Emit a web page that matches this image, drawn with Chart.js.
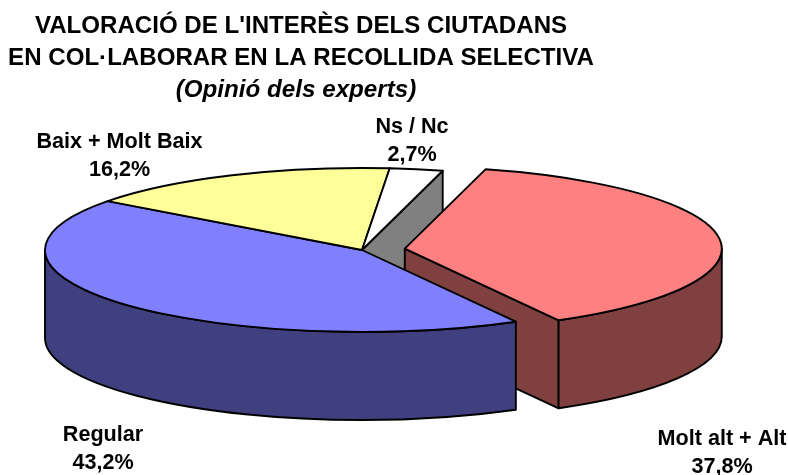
<!DOCTYPE html>
<html><head><meta charset="utf-8">
<style>html,body{margin:0;padding:0;background:#fff}canvas{display:block}</style>
<script src="https://cdn.jsdelivr.net/npm/chart.js@4/dist/chart.umd.min.js"></script>
</head><body><canvas id="c" width="788" height="475"></canvas>
<script>
const categories = ['Molt alt + Alt', 'Regular', 'Baix + Molt Baix', 'Ns / Nc'];
const values = [37.8, 43.2, 16.2, 2.7];
const topColors = ['#FF8080', '#8080FF', '#FFFF99', '#FFFFFF'];
const sideColors = ['#804040', '#404080', '#808040', '#808080'];
const explode = [0.136, 0, 0, 0];
const titleLines = ["VALORACIÓ DE L'INTERÈS DELS CIUTADANS", 'EN COL·LABORAR EN LA RECOLLIDA SELECTIVA'];
const subtitleText = '(Opinió dels experts)';
const labelCenters = [[722, 439], [103, 435], [119.5, 142], [412, 127]];

const view = {cx: 362, cy: 250, rx: 317, ry: 82, depth: 88};
const FONT = 'Liberation Sans, Arial, sans-serif';

const pie3d = {
  id: 'pie3d',
  beforeDatasetDraw() { return false; },
  afterDatasetsDraw(chart) {
    const ctx = chart.ctx;
    const arcs = chart.getDatasetMeta(0).data;
    const n = arcs.length;
    const toScreen = (arc, i, yShift) => {
      const R = arc.outerRadius;
      const sx = view.rx / R, sy = view.ry / R;
      const mid = (arc.startAngle + arc.endAngle) / 2;
      const e = explode[i];
      return {
        sx, sy,
        ox: view.cx + Math.cos(mid) * e * view.rx - arc.x * sx,
        oy: view.cy + Math.sin(mid) * e * view.ry - arc.y * sy + yShift
      };
    };
    const pt = (arc, i, a, r, yShift) => {
      const t = toScreen(arc, i, yShift);
      return [t.ox + (arc.x + Math.cos(a) * r) * t.sx, t.oy + (arc.y + Math.sin(a) * r) * t.sy];
    };
    const arcPath = (arc, i, a0, a1, ccw, yShift) => {
      const t = toScreen(arc, i, yShift);
      ctx.save();
      ctx.transform(t.sx, 0, 0, t.sy, t.ox, t.oy);
      ctx.arc(arc.x, arc.y, arc.outerRadius, a0, a1, ccw);
      ctx.restore();
    };
    const paint = (fill) => {
      ctx.fillStyle = fill;
      ctx.fill();
      ctx.strokeStyle = '#000';
      ctx.lineWidth = 1.9;
      ctx.lineJoin = 'round';
      ctx.stroke();
    };
    const radialWall = (arc, i, a) => {
      const p = pt(arc, i, a, 0, 0), q = pt(arc, i, a, arc.outerRadius, 0);
      ctx.beginPath();
      ctx.moveTo(p[0], p[1]);
      ctx.lineTo(q[0], q[1]);
      ctx.lineTo(q[0], q[1] + view.depth);
      ctx.lineTo(p[0], p[1] + view.depth);
      ctx.closePath();
      paint(sideColors[i]);
    };
    const drawSide = (i) => {
      const arc = arcs[i];
      const f0 = Math.max(arc.startAngle, 0), f1 = Math.min(arc.endAngle, Math.PI);
      if (f1 > f0) {
        ctx.beginPath();
        arcPath(arc, i, f0, f1, false, 0);
        arcPath(arc, i, f1, f0, true, view.depth);
        ctx.closePath();
        paint(sideColors[i]);
      }
    };
    const drawCuts = (i) => {
      const arc = arcs[i];
      const next = (i + 1) % n, prev = (i + n - 1) % n;
      if (explode[next] !== explode[i] && Math.cos(arc.endAngle) > 0) radialWall(arc, i, arc.endAngle);
      if (explode[prev] !== explode[i] && Math.cos(arc.startAngle) < 0) radialWall(arc, i, arc.startAngle);
    };
    const drawTop = (i) => {
      const arc = arcs[i];
      const c = pt(arc, i, 0, 0, 0);
      ctx.beginPath();
      ctx.moveTo(c[0], c[1]);
      arcPath(arc, i, arc.startAngle, arc.endAngle, false, 0);
      ctx.closePath();
      paint(topColors[i]);
    };
    const idx = values.map((_, i) => i);
    const flat = idx.filter(i => !explode[i]);
    const out = idx.filter(i => explode[i]);
    ctx.save();
    flat.forEach(drawCuts);
    out.forEach(drawCuts);
    out.forEach(drawSide);
    out.forEach(drawTop);
    flat.forEach(drawSide);
    flat.forEach(drawTop);
    // slice labels and the italic sub-heading
    ctx.fillStyle = '#000';
    ctx.textAlign = 'center';
    ctx.textBaseline = 'middle';
    ctx.font = 'italic bold 24.2px ' + FONT;
    ctx.fillText(subtitleText, 296, 90);
    ctx.font = 'bold 21.6px ' + FONT;
    categories.forEach((name, i) => {
      const [x, y] = labelCenters[i];
      ctx.fillText(name, x, y);
      ctx.fillText(values[i].toFixed(1).replace('.', ',') + '%', x, y + 28.5);
    });
    ctx.restore();
  }
};

new Chart(document.getElementById('c'), {
  type: 'pie',
  data: {
    labels: categories,
    datasets: [{data: values, backgroundColor: topColors, borderWidth: 0}]
  },
  plugins: [pie3d],
  options: {
    responsive: false,
    animation: false,
    rotation: 14.75,
    layout: {padding: {left: 8, right: 194, top: 0, bottom: 0}},
    plugins: {
      legend: {display: false},
      tooltip: {enabled: false},
      title: {
        display: true, fullSize: false, text: titleLines, color: '#000',
        font: {family: FONT, size: 24.1, weight: 'bold', lineHeight: 1.3},
        padding: {top: 11, bottom: 0}
      }
    }
  }
});
</script></body></html>
